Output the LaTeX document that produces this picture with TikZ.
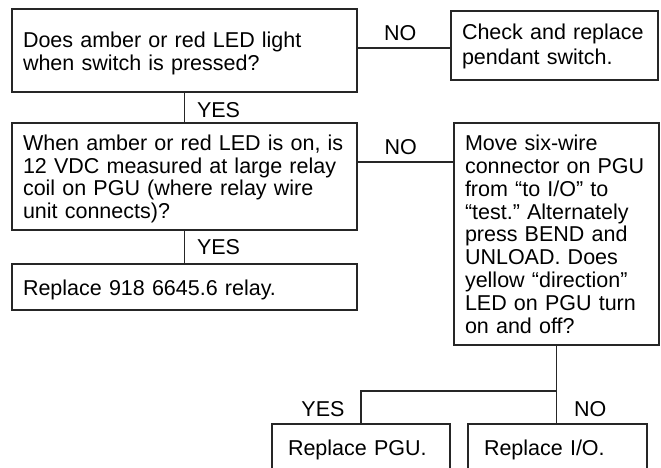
\documentclass[tikz,border=0pt]{standalone}
\usepackage{fontspec}
\setmainfont{Liberation Sans}
\frenchspacing

\begin{document}
\begin{tikzpicture}[x=1bp,y=-1bp,line width=1.1bp,
  font=\fontsize{21.5bp}{22.5bp}\selectfont,
  box/.style={draw=black!85,anchor=north west,align=left,outer sep=0pt,
    inner xsep=11bp,inner ysep=0pt,text height=16bp},
  lbl/.style={inner sep=0pt}]
\useasboundingbox (0,0) rectangle (661,468);
\clip (0,0) rectangle (661,468);
\node[box,text width=323bp,minimum height=83bp,text depth=21bp] (LED) at (12,9)
  {Does amber or red LED light\\when switch is pressed?};
\node[box,text width=185bp,minimum height=69bp,text depth=27bp] (CHK) at (451,11)
  {Check and replace\\[2bp]pendant switch.};
\node[box,text width=323bp,minimum height=107bp,text depth=67bp] (VDC) at (12,123)
  {When amber or red LED is on, is\\12 VDC measured at large relay\\coil on PGU (where relay wire\\unit connects)?};
\node[box,text width=183bp,minimum height=222bp,text depth=182bp,
  font=\fontsize{21.5bp}{22.75bp}\selectfont] (MOVE) at (454,123)
  {Move six-wire\\connector on PGU\\from “to I/O” to\\“test.” Alternately\\press BEND and\\UNLOAD. Does\\yellow “direction”\\LED on PGU turn\\on and off?};
\node[box,text width=323bp,minimum height=46bp,text depth=0bp] (RLY) at (12,264)
  {Replace 918 6645.6 relay.};
\node[box,inner xsep=16bp,text width=146bp,minimum height=47bp,text depth=1bp] (PGU) at (272,424)
  {Replace PGU.};
\node[box,inner xsep=16bp,text width=147bp,minimum height=47bp,text depth=1bp] (IO) at (468,424)
  {Replace I/O.};
\draw[black!85] ([yshift=2.5bp]LED.east) -- node[lbl,above=7bp,pos=0.46,black] {NO} ([yshift=2.5bp]LED.east -| CHK.west);
\draw[black!85] (LED.south) -- node[lbl,right=12bp,yshift=-2.5bp,black] {YES} (VDC.north);
\draw[black!85] ([yshift=14.5bp]VDC.east) -- node[lbl,above=7bp,pos=0.45,black] {NO} ([yshift=14.5bp]VDC.east -| MOVE.west);
\draw[black!85] (VDC.south) -- node[lbl,right=12bp,black] {YES} (RLY.north);
\draw[black!85] (MOVE.south) -- ++(0,46) coordinate (J) -| node[lbl,left=16bp,pos=0.75,yshift=-2bp,black] {YES} (PGU.north);
\draw[black!85] (J) -- node[lbl,right=17bp,yshift=-2bp,black] {NO} (J |- IO.north);
\end{tikzpicture}
\end{document}
